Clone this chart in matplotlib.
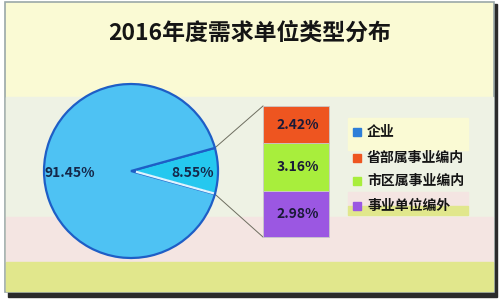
import matplotlib
matplotlib.use('Agg')
from matplotlib import pyplot as plt
from matplotlib.patches import Rectangle
import numpy as np

plt.rcParams['font.family'] = ['Noto Sans CJK SC', 'DejaVu Sans']

title = '2016年度需求单位类型分布'
pie_labels = ['企业', '事业单位']
pie_values = [91.45, 8.55]
bar_labels = ['省部属事业编内', '市区属事业编内', '事业单位编外']
bar_values = [2.42, 3.16, 2.98]
legend_labels = ['企业', '省部属事业编内', '市区属事业编内', '事业单位编外']

pie_colors = ['#4EC2F3', '#25C8EF']
bar_colors = ['#EE5520', '#A8EE3C', '#9B57E2']
legend_colors = ['#2F7FD8', '#EE5520', '#A8EE3C', '#9B57E2']

H = 303
fig = plt.figure(figsize=(5.0, 3.03), dpi=100)
ax = fig.add_axes([0, 0, 1, 1])
ax.set_xlim(0, 500)
ax.set_ylim(0, H)
ax.axis('off')

# background frame and bands (pixel coords, y from top)
ax.add_patch(Rectangle((8, H - 297), 489, 293, color='#2B2B2B', zorder=0))
ax.add_patch(Rectangle((5, H - 292), 489, 290, facecolor='#FAFAD4', edgecolor='#9AA8A8', lw=1.2, zorder=0.5))
ax.add_patch(Rectangle((6, H - 217), 487, 120, color='#EEF2E4', zorder=0.6))
ax.add_patch(Rectangle((6, H - 262), 487, 45, color='#F4E5E2', zorder=0.6))
ax.add_patch(Rectangle((6, H - 291), 487, 29, color='#E1E78C', zorder=0.6))
# odd patches behind the legend
ax.add_patch(Rectangle((348, H - 150), 120, 32, color='#FAFAD4', zorder=0.7))
ax.add_patch(Rectangle((348, H - 206), 120, 14, color='#F4E5E2', zorder=0.7))
ax.add_patch(Rectangle((348, H - 215), 120, 9, color='#E1E78C', zorder=0.7))

ax.text(250, H - 33, title, ha='center', va='center', fontsize=16.5,
        fontweight='bold', color='#151515', zorder=5)

# pie, small slice centred on the right
cx, cy, r = 131, H - 171, 87
half = pie_values[1] / 2 * 3.6
wedges, _ = ax.pie(pie_values[::-1], colors=pie_colors[::-1], startangle=-half,
                   center=(cx, cy), radius=r, frame=True,
                   wedgeprops=dict(edgecolor='#1E5EC6', linewidth=1.6))
for w in wedges:
    w.set_zorder(2)
ax.set_xlim(0, 500)
ax.set_ylim(0, H)
ax.set_aspect('auto')
ax.axis('off')

# light edge on the lower boundary of the small slice
a = np.deg2rad(-half)
ax.plot([cx + 6, cx + r * np.cos(a) - 2], [cy - 1, cy + r * np.sin(a) + 1],
        color='#DDF4FF', lw=1.6, zorder=3)

ax.text(70, H - 173, f'{pie_values[0]:.2f}%', ha='center', va='center',
        fontsize=10, fontweight='bold', color='#15284A', zorder=5)
ax.text(193, H - 173, f'{pie_values[1]:.2f}%', ha='center', va='center',
        fontsize=10, fontweight='bold', color='#15284A', zorder=5)

# stacked bar
bx, bw = 296, 66
top, bottom = H - 106, H - 237
scale = (top - bottom) / sum(bar_values)
b = bottom
for lab, v, c in list(zip(bar_labels, bar_values, bar_colors))[::-1]:
    ax.bar(bx, v * scale, width=bw, bottom=b, color=c, edgecolor='#C9C9C9',
           linewidth=0.6, zorder=3)
    ax.text(bx + 2, b + v * scale / 2, f'{v:.2f}%', ha='center', va='center',
            fontsize=10, fontweight='bold', color='#1A1A38', zorder=5)
    b += v * scale

# connector lines
for ang, yb in [(half, top), (-half, bottom)]:
    t = np.deg2rad(ang)
    ax.plot([cx + r * np.cos(t), bx - bw / 2], [cy + r * np.sin(t), yb],
            color='#6E6E60', lw=0.7, zorder=1.5)

# legend
ys = [132, 158, 181, 206]
for lab, c, y in zip(legend_labels, legend_colors, ys):
    ax.add_patch(Rectangle((353, H - y - 4), 8, 8, color=c, zorder=4))
    ax.text(367, H - y, lab, ha='left', va='center', fontsize=10,
            fontweight='bold', color='#151515', zorder=5)

fig.savefig('out.png', dpi=100)
